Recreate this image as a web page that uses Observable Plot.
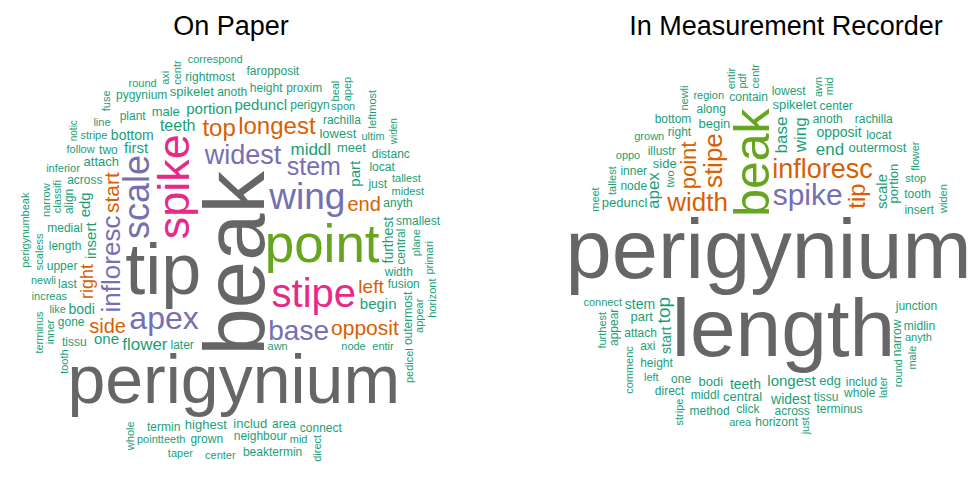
<!DOCTYPE html>
<html>
<head>
<meta charset="utf-8">
<script src="https://cdn.jsdelivr.net/npm/d3@7"></script>
<script src="https://cdn.jsdelivr.net/npm/@observablehq/plot@0.6"></script>
<style>
  body { margin: 0; background: #fff; font-family: "Liberation Sans", Arial, sans-serif; }
  #titles { position: relative; width: 975px; height: 45px; }
  .t { position: absolute; top: 13px; font-size: 27px; line-height: 27px; color: #000; transform: translateX(-50%); white-space: nowrap; }
  #charts { display: flex; width: 975px; }
</style>
</head>
<body>
<div id="titles">
  <span class="t" style="left:231px">On Paper</span>
  <span class="t" style="left:786px">In Measurement Recorder</span>
</div>
<div id="charts"></div>
<script>
// ---------------- DATA ----------------
// "On Paper" word frequencies (relative weights read from word sizes)
const paperWords = [
  "beak","tip","perigynium","point","spike","stipe","wing","scale","apex","base","widest","infloresc","stem",
  "top","longest","opposit","start","side","end","left","right",
  "middl","flower","teeth",
  "begin","portion","insert","first","peduncl","part","edg","one",
  "furthest","bottom","bodi",
  "lowest","includ","highest","meet","attach","male","spikelet",
  "length","width","just","across","upper","later","anoth","perigyn","fusion","medial","neighbour","height",
  "anyth","gone","last","central","align","two","plant","rightmost","rachilla","locat","area","outermost",
  "grown","termin","tissu","pygynium","faropposit","proxim","smallest","connect","distanc","beaktermin",
  "node","increas","midest","follow","stripe","pointteeth","like","spon","awn","plane","ultim","inferior",
  "newli","tallest","classifi","line","primari","appear","scaless","tooth","narrow","horizont","inner","centr",
  "leftmost","center","entir","pedicel","beal","axi","direct","whole","round","mid","perigynumbeak","terminus",
  "correspond","fuse","taper","apep",
  "widen","notic"
];
const paperFreq = [
  85,72,68,53,45,40,37,36,32,28,27,26,25,
  24,24,21,21,20,20,19,18,
  17,17,16,
  15,15,15,15,15,15,15,15,
  14,14,14,
  13,13,13,13,13,13,13,
  12,12,12,12,12,12,12,12,12,12,12,12,
  12,12,12,12,12,12,12,12,12,12,12,12,
  12,12,12,12,12,12,12,12,12,12,
  11,11,11,11,11,11,11,11,11,11,11,11,
  11,11,11,11,11,11,11,11,11,11,11,11,
  11,11,11,11,11,11,11,11,11,11,11,11,
  11,11,11,11,
  10,10
];

// "In Measurement Recorder" word frequencies
const recorderWords = [
  "perigynium","length","beak","spike","infloresc","width","stipe","tip","point",
  "top","base","wing","end","apex","scale","longest",
  "start","teeth","opposit","stem","widest",
  "bodi","edg","begin","side","part","central","peduncl","spikelet","portion","outermost",
  "attach","junction","node","illustr","anoth","right","middl","height","narrow","includ","along","tissu",
  "one","click","across","axi","contain","horizont","insert","inner","method","lowest","center","bottom",
  "tooth","locat","terminus","midlin","whole","appear","direct","rachilla",
  "stop","grown","area","anyth","oppo","region","connect","commenc","tallest","later","left","male",
  "stripe","two","round","flower","furthest","just","awn","newli","pdf","centr","meet","entir","mid","widen"
];
const recorderFreq = [
  83,82,50,30,27,26,26,24,22,
  19,17,17,17,17,15,15,
  14,14,14,14,14,
  13,13,13,13,13,13,13,13,13,13,
  12,12,12,12,12,12,12,12,12,12,12,12,
  12,12,12,12,12,12,12,12,12,12,12,12,
  12,12,12,12,12,12,12,12,
  11,11,11,11,11,11,11,11,11,11,11,11,
  11,11,11,11,11,11,11,11,11,11,11,11,11,11
];

// ---------------- STYLE / LAYOUT ----------------
const dark2 = ["#1B9E77", "#D95F02", "#7570B3", "#E7298A", "#66A61E", "#666666"];
const FONT = '"Liberation Sans", Arial, Helvetica, sans-serif';

// words drawn vertically (reading upward)
const paperVertical = ["beak","spike","scale","infloresc","start","right","insert","edg","part","furthest",
  "central","align","plane","classifi","primari","appear","scaless","tooth","narrow","horizont","inner","centr",
  "leftmost","outermost","pedicel","beal","axi","direct","whole","perigynumbeak","terminus","fuse","apep","widen","notic"];
const recorderVertical = ["beak","stipe","tip","point","top","base","wing","apex","scale","start","commenc",
  "tallest","later","male","stripe","two","round","narrow","flower","furthest","just","awn","newli","pdf","centr",
  "meet","appear","portion","entir","mid","widen"];

const ctx = document.createElement("canvas").getContext("2d");
ctx.textAlign = "center";
ctx.textBaseline = "alphabetic";

// spiral word-cloud layout (largest words first, each pushed out along a spiral until free)
function layoutCloud(words, freq, vertical, {width, height, cx, cy, seed, size}) {
  const order = d3.range(words.length).sort((a, b) => freq[b] - freq[a] || a - b);
  const boxes = [];
  const out = [];
  const pad = 1.2;
  order.forEach((idx, k) => {
    const word = words[idx];
    const fs = size(freq[idx]);
    const rot = vertical.includes(word);
    ctx.font = `${fs}px ${FONT}`;
    const m = ctx.measureText(word);
    const L = m.actualBoundingBoxLeft, R = m.actualBoundingBoxRight;
    const A = m.actualBoundingBoxAscent, D = m.actualBoundingBoxDescent;
    const bw = rot ? A + D : L + R;
    const bh = rot ? L + R : A + D;
    let theta = seed + k * 2.39996, r = 0;
    for (let step = 0; step < 80000; ++step) {
      const px = cx + r * Math.cos(theta), py = cy + r * Math.sin(theta);
      const x0 = px - bw / 2 - pad, y0 = py - bh / 2 - pad, x1 = px + bw / 2 + pad, y1 = py + bh / 2 + pad;
      if (x0 >= 2 && y0 >= 0 && x1 <= width - 2 && y1 <= height &&
          !boxes.some(o => x0 < o[2] && x1 > o[0] && y0 < o[3] && y1 > o[1])) {
        boxes.push([x0, y0, x1, y1]);
        out.push({
          word, freq: freq[idx], fs,
          x: rot ? px - bw / 2 + A : px - bw / 2 + L,
          y: rot ? py - bh / 2 + R : py - bh / 2 + A,
          rotate: rot ? -90 : 0
        });
        return;
      }
      theta += 0.05;
      r += 5 * 0.05 / (2 * Math.PI);
    }
  });
  return out;
}

function cloudPlot(data, W, H, breaks, colors) {
  return Plot.plot({
    width: W, height: H, margin: 0,
    style: {background: "#fff"},
    x: {domain: [0, W], axis: null},
    y: {domain: [0, H], range: [0, H], axis: null},
    color: {type: "threshold", domain: breaks, range: colors},
    marks: [
      Plot.text(data, {
        x: "x", y: "y", text: "word",
        fontSize: d => d.fs, rotate: "rotate", fill: "freq",
        textAnchor: "middle", lineAnchor: "bottom",
        fontFamily: FONT
      })
    ]
  });
}

const H = 444;
const sizeScale = d3.scaleLinear().domain([10, 85]).range([10, 85]);

const paperData = layoutCloud(paperWords, paperFreq, paperVertical,
  {width: 487, height: H, cx: 233, cy: 215, seed: 3.88, size: sizeScale});
const recorderData = layoutCloud(recorderWords, recorderFreq, recorderVertical,
  {width: 488, height: H, cx: 281, cy: 210, seed: 4.197, size: sizeScale});

const charts = document.getElementById("charts");
charts.appendChild(cloudPlot(paperData, 487, H, [18, 25, 39, 51, 61], dark2));
charts.appendChild(cloudPlot(recorderData, 488, H, [21, 29, 41, 71],
  [dark2[0], dark2[1], dark2[2], dark2[4], dark2[5]]));
</script>
</body>
</html>
